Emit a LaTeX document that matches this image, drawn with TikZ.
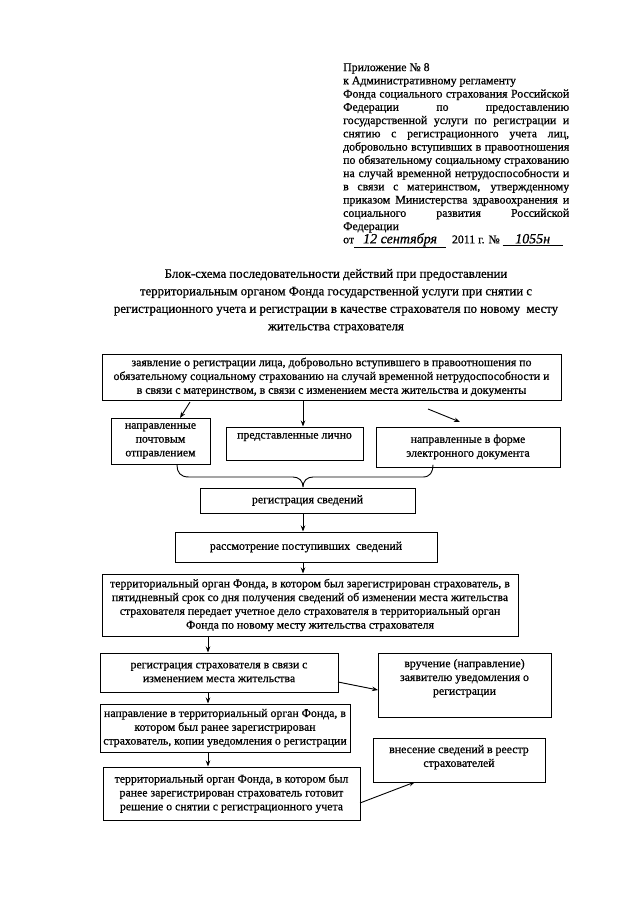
\documentclass[tikz,border=0pt]{standalone}
\usepackage{fontspec}
\setmainfont{Liberation Serif}[FakeBold=0.7]
\usetikzlibrary{arrows.meta}
\newcommand{\bxt}[4]{\parbox[c][#2pt][#3]{#1pt}{\centering #4}}
\tikzset{
  box/.style={draw, line width=1pt, inner sep=0pt, font=\fontsize{11.8}{13.8}\selectfont},
  arr/.style={-{Stealth[length=6pt,width=4.5pt]}, line width=0.9pt},
  plain/.style={inner sep=0pt, font=\fontsize{11.8}{13.25}\selectfont},
  bracestyle/.style={line width=0.9pt, line cap=round, line join=round},
}
\begin{document}
\begin{tikzpicture}[x=1pt,y=-1pt]
\useasboundingbox (0,0) rectangle (640,905);
% header
\node[plain, anchor=north west, align=left] (hdr) at (343,63) {%
Приложение № 8\\
к Административному регламенту\\
\makebox[226pt][s]{Фонда социального страхования Российской}\\
\makebox[226pt][s]{Федерации по предоставлению}\\
\makebox[226pt][s]{государственной услуги по регистрации и}\\
\makebox[226pt][s]{снятию с регистрационного учета лиц,}\\
\makebox[226pt][s]{добровольно вступивших в правоотношения}\\
\makebox[226pt][s]{по обязательному социальному страхованию}\\
\makebox[226pt][s]{на случай временной нетрудоспособности и}\\
\makebox[226pt][s]{в связи с материнством, утвержденному}\\
\makebox[226pt][s]{приказом Министерства здравоохранения и}\\
\makebox[226pt][s]{социального развития Российской}\\
Федерации\\
от\underline{\makebox[92pt]{\itshape\fontsize{14}{14}\selectfont 12 сентября}}\ \ 2011 г. № \underline{\makebox[60pt]{\itshape\fontsize{14}{14}\selectfont 1055н}}};
% title
\node[inner sep=0pt, align=center, font=\fontsize{12.8}{17.5}\selectfont] (title) at (336,301) {%
Блок-схема последовательности действий при предоставлении\\
территориальным органом Фонда государственной услуги при снятии с\\
регистрационного учета и регистрации в качестве страхователя по новому\ \ месту\\
жительства страхователя};
% boxes
\node[box] (B1) at (331.5,377) {\bxt{459}{46}{c}{заявление о регистрации лица, добровольно вступившего в правоотношения по\\ обязательному социальному страхованию на случай временной нетрудоспособности и\\ в связи с материнством, в связи с изменением места жительства и документы}};
\node[box] (S1) at (160.5,441) {\bxt{99}{46}{c}{направленные\\ почтовым\\ отправлением}};
\node[box] (S2) at (294.5,443.5) {\bxt{137}{33}{t}{\vspace{6pt}представленные лично}};
\node[box] (S3) at (468,447) {\bxt{184}{40}{c}{направленные в форме\\ электронного документа}};
\node[box] (R1) at (307.5,500.5) {\bxt{215}{25}{c}{регистрация сведений}};
\node[box] (R2) at (306,547) {\bxt{262}{30}{c}{рассмотрение поступивших\ \ сведений}};
\node[box] (R3) at (310,605) {\bxt{416}{62}{c}{территориальный орган Фонда, в котором был зарегистрирован страхователь, в\\ пятидневный срок со дня получения сведений об изменении места жительства\\ страхователя передает учетное дело страхователя в территориальный орган\\ Фонда по новому месту жительства страхователя}};
\node[box] (R4) at (219,672.5) {\bxt{238}{39}{c}{регистрация страхователя в связи с\\ изменением места жительства}};
\node[box] (V) at (464.5,685) {\bxt{173}{64}{t}{\vspace{6pt}вручение (направление)\\ заявителю уведомления о\\ регистрации}};
\node[box] (R5) at (225,728) {\bxt{250}{48}{c}{направление в территориальный орган Фонда, в\\ котором был ранее зарегистрирован\\ страхователь, копии уведомления о регистрации}};
\node[box] (R6) at (231.5,793.5) {\bxt{257}{53}{c}{территориальный орган Фонда, в котором был\\ ранее зарегистрирован страхователь готовит\\ решение о снятии с регистрационного учета}};
\node[box] (VN) at (459,760) {\bxt{172}{44}{t}{\vspace{7pt}внесение сведений в реестр\\ страхователей}};
% brace
\coordinate (brL) at (177,465);
\coordinate (brR) at (433,465);
\coordinate (brT) at (303,487);
\draw[bracestyle] (brL) .. controls (177,472) and (180,477) .. (189,477) -- (293,477)
  .. controls (299,477) and (303,481) .. (brT)
  .. controls (303,481) and (307,477) .. (313,477) -- (423,477)
  .. controls (430,477) and (433,472) .. (brR);
% coordinates
\coordinate (a1s) at (190,402);
\coordinate (a1e) at (180,418);
\coordinate (a3s) at (428,409);
\coordinate (a3e) at (460,422);
\coordinate (xc) at (303,0);
\coordinate (xl) at (208,0);
\coordinate (a7s) at (338,682);
\coordinate (a7e) at (378,690);
\coordinate (a10s) at (360,803);
\coordinate (a10e) at (415,782);
% arrows
\draw[arr] (a1s) -- (a1e);
\draw[arr] (xc |- B1.south) -- (xc |- S2.north);
\draw[arr] (a3s) -- (a3e);
\draw[arr] (xc |- R1.south) -- (xc |- R2.north);
\draw[arr] (xc |- R2.south) -- (xc |- R3.north);
\draw[arr] (xl |- R3.south) -- (xl |- R4.north);
\draw[arr] (a7s) -- (a7e);
\draw[arr] (xl |- R4.south) -- (xl |- R5.north);
\draw[arr] (xl |- R5.south) -- (xl |- R6.north);
\draw[arr] (a10s) -- (a10e);
\end{tikzpicture}
\end{document}
